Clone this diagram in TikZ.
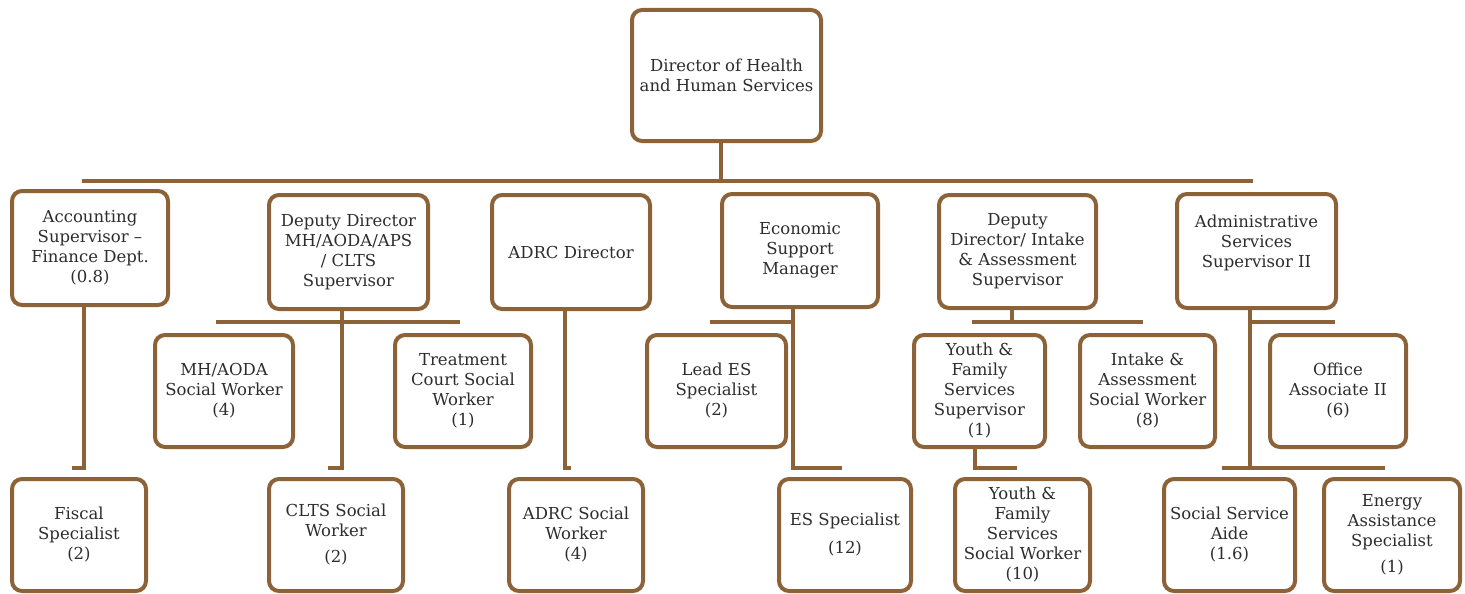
\documentclass[tikz,border=0pt]{standalone}
\usepackage{fontspec}
\setmainfont{DejaVu Serif}
\usetikzlibrary{calc}
\definecolor{brn}{RGB}{140,98,57}
\definecolor{ink}{RGB}{45,45,45}

\begin{document}
\begin{tikzpicture}[x=1pt,y=-1pt]
\tikzstyle{every node}+=[inner sep=0pt]
\tikzstyle{box}=[draw=brn, line width=4pt, rounded corners=10pt, fill=white, align=center, text=ink, font=\fontsize{16.5}{20}\selectfont]
\tikzstyle{link}=[draw=brn, line width=4pt]
\useasboundingbox (0,0) rectangle (1465,594);

% top
\node[box, minimum width=189, minimum height=131] (dhhs) at (726.5,75.5) {Director of Health\\and Human Services};

% first row
\node[box, minimum width=156, minimum height=114] (acct) at (90,248) {Accounting\\Supervisor --\\Finance Dept.\\(0.8)};
\node[box, minimum width=159, minimum height=114] (dep1) at (348.5,252) {Deputy Director\\MH/AODA/APS\\/ CLTS\\Supervisor};
\node[box, minimum width=158, minimum height=114] (adrc) at (571,252) {ADRC Director};
\node[box, minimum width=156, minimum height=113] (esm) at (800,250.5) {Economic\\Support\\Manager};
\node[box, minimum width=157, minimum height=113] (dep2) at (1017.5,251.5) {Deputy\\Director/ Intake\\\& Assessment\\Supervisor};
\node[box, minimum width=159, minimum height=114] (asv) at (1256.5,251) {Administrative\\Services\\Supervisor II\\~};

% second row
\node[box, minimum width=138, minimum height=112] (mhaoda) at (224,391) {MH/AODA\\Social Worker\\(4)};
\node[box, minimum width=136, minimum height=112] (tcsw) at (463,391) {Treatment\\Court Social\\Worker\\(1)};
\node[box, minimum width=139, minimum height=112] (leades) at (716.5,391) {Lead ES\\Specialist\\(2)};
\node[box, minimum width=131, minimum height=112] (yfss) at (979.5,391) {Youth \&\\Family\\Services\\Supervisor\\(1)};
\node[box, minimum width=135, minimum height=112] (iasw) at (1147.5,391) {Intake \&\\Assessment\\Social Worker\\(8)};
\node[box, minimum width=136, minimum height=112] (oa2) at (1338,391) {Office\\Associate II\\(6)};

% third row
\node[box, minimum width=134, minimum height=112] (fiscal) at (79,535) {Fiscal\\Specialist\\(2)};
\node[box, minimum width=134, minimum height=112] (cltssw) at (336,535) {CLTS Social\\Worker\\[6pt](2)};
\node[box, minimum width=134, minimum height=112] (adrcsw) at (576,535) {ADRC Social\\Worker\\(4)};
\node[box, minimum width=132, minimum height=112] (essp) at (845,535) {ES Specialist\\[8pt](12)};
\node[box, minimum width=135, minimum height=112] (yfsw) at (1022.5,535) {Youth \&\\Family\\Services\\Social Worker\\(10)};
\node[box, minimum width=131, minimum height=112] (ssa) at (1229.5,535) {Social Service\\Aide\\(1.6)};
\node[box, minimum width=136, minimum height=112] (eas) at (1392,535) {Energy\\Assistance\\Specialist\\[6pt](1)};

% connectors
\coordinate (barL) at (82,181);
\coordinate (barR) at (1253,181);
\draw[link] (barL) -- (barR);
\draw[link] ([xshift=-6]dhhs.south) -- ([xshift=-6]dhhs.south |- barL);

\draw[link] ([xshift=-6]acct.south) |- ($(fiscal.north)+(-7,-9)$);

\draw[link] ($(mhaoda.north)+(-8,-11)$) -- ($(tcsw.north)+(-3,-11)$);
\draw[link] ([xshift=-6.5]dep1.south) |- ($(cltssw.north)+(-8,-9)$);

\draw[link] ([xshift=-6]adrc.south) |- ($(adrcsw.north)+(-5,-9)$);

\draw[link] ($(leades.north)+(-6.5,-11)$) -| ([xshift=-7]esm.south);
\draw[link] ([xshift=-7]esm.south) |- ($(essp.north)+(-3,-9)$);

\draw[link] ([xshift=-5.5]dep2.south) |- ($(yfss.north)+(-7.5,-11)$);
\draw[link] ($(yfss.north)+(-7.5,-11)$) -- ($(iasw.north)+(-4.5,-11)$);
\draw[link] ([xshift=-4.5]yfss.south) |- ($(yfsw.north)+(-5.5,-9)$);

\draw[link] ([xshift=-6.5]asv.south) |- ($(oa2.north)+(-3,-11)$);
\draw[link] ([xshift=-6.5]asv.south) |- ($(ssa.north)+(-7.5,-9)$);
\draw[link] ($(ssa.north)+(-7.5,-9)$) -- ($(eas.north)+(-7,-9)$);
\end{tikzpicture}
\end{document}
